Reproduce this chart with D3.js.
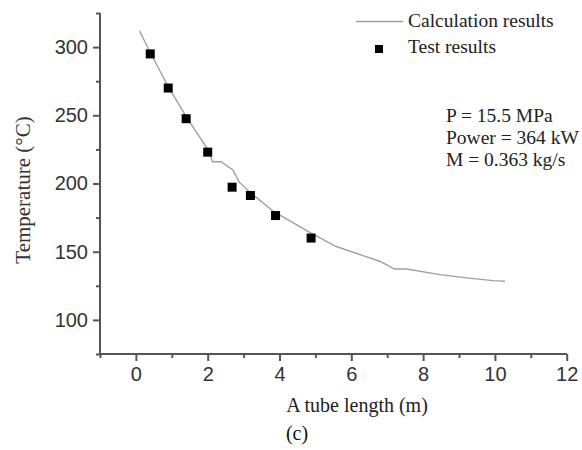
<!DOCTYPE html>
<html><head><meta charset="utf-8">
<script src="https://cdn.jsdelivr.net/npm/d3@7"></script>
<style>body{margin:0;background:#fff}</style>
</head><body>
<svg id="chart" width="582" height="450"></svg>
<script>
// Data
const calcX = [0.1, 0.4, 0.9, 1.4, 2.0, 2.14, 2.37, 2.7, 2.88, 3.16, 3.9, 4.0, 4.88, 5.58, 6.79, 7.21, 7.54, 8.47, 9.21, 9.95, 10.28];
const calcY = [312, 296, 271, 249, 225, 216, 216, 210, 201, 194, 178, 177, 163.6, 153.8, 143, 137.3, 137.3, 133.2, 130.8, 128.8, 128.3];
const testX = [0.4, 0.9, 1.4, 2.0, 2.68, 3.19, 3.89, 4.88];
const testY = [295, 270, 247.5, 223, 197.3, 191.2, 176.5, 160];
const xTicks = [0, 2, 4, 6, 8, 10, 12];
const xMinor = [-1, 1, 3, 5, 7, 9, 11];
const yTicks = [100, 150, 200, 250, 300];
const yMinor = [75, 125, 175, 225, 275, 325];
const legendLabels = ["Calculation results", "Test results"];
const annotation = ["P = 15.5 MPa", "Power = 364 kW", "M = 0.363 kg/s"];

const svg = d3.select("#chart");
const x = d3.scaleLinear().domain([-1, 12]).range([100, 566.7]);
const y = d3.scaleLinear().domain([75, 325]).range([354, 13]);
const axisColor = "#555";

// Axes
const xAxis = svg.append("g").attr("transform", `translate(0,${y(75)})`)
  .call(d3.axisBottom(x).tickValues(xTicks).tickSize(7).tickPadding(6).tickFormat(d3.format("d")));
const xAxisMinor = svg.append("g").attr("transform", `translate(0,${y(75)})`)
  .call(d3.axisBottom(x).tickValues(xMinor).tickSize(4).tickFormat(""));
const yAxis = svg.append("g").attr("transform", `translate(${x(-1)},0)`)
  .call(d3.axisLeft(y).tickValues(yTicks).tickSize(7).tickPadding(5).tickFormat(d3.format("d")));
const yAxisMinor = svg.append("g").attr("transform", `translate(${x(-1)},0)`)
  .call(d3.axisLeft(y).tickValues(yMinor).tickSize(4).tickFormat(""));
[xAxis, xAxisMinor, yAxis, yAxisMinor].forEach(g => {
  g.select(".domain").attr("stroke", axisColor).attr("stroke-width", 2).attr("d",
    g === xAxis || g === xAxisMinor ? `M${x(-1)},0H${x(12)}` : `M0,${y(75)}V${y(325)}`);
  g.selectAll(".tick line").attr("stroke", axisColor).attr("stroke-width", 2);
  g.selectAll("text").attr("font-family", "Liberation Sans, Arial, sans-serif")
    .attr("font-size", 20).attr("fill", "#333");
});

// Calculation line
const line = d3.line().x((d, i) => x(calcX[i])).y((d, i) => y(calcY[i]));
svg.append("path").datum(calcY).attr("d", line)
  .attr("fill", "none").attr("stroke", "#a0a0a0").attr("stroke-width", 1.4);

// Test points
svg.append("g").selectAll("rect").data(testY).join("rect")
  .attr("x", (d, i) => x(testX[i]) - 4.5).attr("y", d => y(d) - 4.5)
  .attr("width", 9).attr("height", 9).attr("fill", "#000");

// Legend
const serif = "Liberation Serif, Times New Roman, serif";
svg.append("line").attr("x1", 356).attr("x2", 403).attr("y1", 21.5).attr("y2", 21.5)
  .attr("stroke", "#a0a0a0").attr("stroke-width", 1.4);
svg.append("rect").attr("x", 375).attr("y", 45).attr("width", 8).attr("height", 8).attr("fill", "#000");
svg.selectAll("text.leg").data(legendLabels).join("text").attr("class", "leg")
  .attr("x", 408).attr("y", (d, i) => 27 + i * 26)
  .attr("font-family", serif).attr("font-size", 19.5).attr("fill", "#222").text(d => d);

// Annotation
svg.selectAll("text.ann").data(annotation).join("text").attr("class", "ann")
  .attr("x", 446).attr("y", (d, i) => 121.5 + i * 22.2)
  .attr("font-family", serif).attr("font-size", 19.5).attr("fill", "#222").text(d => d);

// Axis titles
svg.append("text").attr("transform", "translate(30,190) rotate(-90)")
  .attr("text-anchor", "middle").attr("font-family", serif).attr("font-size", 21).attr("fill", "#333")
  .text("Temperature (°C)");
svg.append("text").attr("x", 357).attr("y", 412).attr("text-anchor", "middle")
  .attr("font-family", serif).attr("font-size", 20).attr("fill", "#222").text("A tube length (m)");
svg.append("text").attr("x", 297).attr("y", 440).attr("text-anchor", "middle")
  .attr("font-family", serif).attr("font-size", 20).attr("fill", "#111").text("(c)");
</script>
</body></html>
